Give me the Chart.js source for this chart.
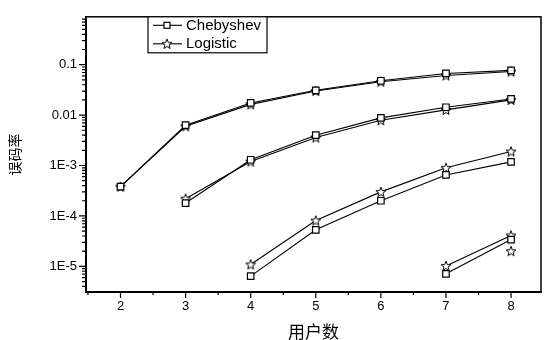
<!DOCTYPE html>
<html>
<head>
<meta charset="utf-8">
<script src="https://cdn.jsdelivr.net/npm/chart.js@4"></script>
<style>
    body { margin: 0; background: #fff; }
    #wrap { width: 548px; height: 340px; }
</style>
</head>
<body>
<div id="wrap"><canvas id="berChart"></canvas></div>
<script>
const users = [2, 3, 4, 5, 6, 7, 8];

// four groups of curves, each a Chebyshev / Logistic pair
const chebyshev1 = [3.8e-4, 6.3e-3, 0.0174, 0.031, 0.048, 0.067, 0.077];
const logistic1  = [3.8e-4, 6.0e-3, 0.0163, 0.030, 0.046, 0.061, 0.073];
const chebyshev2 = [null, 1.8e-4, 1.3e-3, 4.0e-3, 8.8e-3, 0.0143, 0.0209];
const logistic2  = [null, 2.2e-4, 1.2e-3, 3.6e-3, 7.9e-3, 0.0127, 0.0200];
const chebyshev3 = [null, null, 6.4e-6, 5.3e-5, 2.0e-4, 6.5e-4, 1.18e-3];
const logistic3  = [null, null, 1.09e-5, 8.1e-5, 3.0e-4, 9.0e-4, 1.9e-3];
const chebyshev4 = [null, null, null, null, null, 7.1e-6, 3.4e-5];
const logistic4  = [null, null, null, null, null, 1.02e-5, 4.1e-5];
const strayStar  = [null, null, null, null, null, null, 2.0e-5];

const xTicks = [2, 3, 4, 5, 6, 7, 8];
const yTicks = [1e-5, 1e-4, 1e-3, 0.01, 0.1];
const yTickLabels = ['1E-5', '1E-4', '1E-3', '0.01', '0.1'];
const legendNames = ['Chebyshev', 'Logistic'];

const FONT = '"Liberation Sans", Arial, sans-serif';
const CJK = '"Noto Sans CJK SC", sans-serif';

// hollow five point star used as marker
function makeStar() {
    const c = document.createElement('canvas');
    c.width = 12; c.height = 12;
    const g = c.getContext('2d');
    g.beginPath();
    for (let i = 0; i < 10; i++) {
        const r = i % 2 === 0 ? 5.2 : 2.2;
        const ang = -Math.PI / 2 + i * Math.PI / 5;
        const px = 6 + r * Math.cos(ang), py = 6.4 + r * Math.sin(ang);
        if (i === 0) g.moveTo(px, py); else g.lineTo(px, py);
    }
    g.closePath();
    g.fillStyle = '#fff'; g.fill();
    g.strokeStyle = '#000'; g.lineWidth = 1; g.stroke();
    return c;
}
const starImg = makeStar();

function toPoints(arr) {
    return users.map((u, i) => ({ x: u, y: arr[i] })).filter(p => p.y !== null);
}

function series(arr, isStar, showLine) {
    return {
        data: toPoints(arr),
        borderColor: '#000',
        borderWidth: 1.1,
        backgroundColor: '#fff',
        pointStyle: isStar ? starImg : 'rect',
        pointRadius: 4.6,
        pointBorderWidth: 1.2,
        pointBorderColor: '#000',
        pointBackgroundColor: '#fff',
        showLine: showLine,
        tension: 0
    };
}

const frameAndTicks = {
    id: 'frameAndTicks',
    afterDraw(chart) {
        const { ctx, chartArea: a, scales: { x, y } } = chart;
        ctx.save();
        ctx.strokeStyle = '#000';
        ctx.lineWidth = 1.5;
        ctx.strokeRect(a.left, a.top, a.right - a.left, a.bottom - a.top);

        // tick marks, major and minor
        ctx.lineWidth = 1.2;
        ctx.beginPath();
        for (let e = -6; e <= 0; e++) {
            for (let m = 1; m <= 9; m++) {
                const v = m * Math.pow(10, e);
                if (v < y.min || v > y.max) continue;
                const py = y.getPixelForValue(v);
                ctx.moveTo(a.left, py);
                ctx.lineTo(a.left - (m === 1 ? 7 : 4), py);
            }
        }
        for (let v = 1.5; v <= 8.5; v += 0.5) {
            if (v < x.min || v > x.max) continue;
            const px = x.getPixelForValue(v);
            ctx.moveTo(px, a.bottom);
            ctx.lineTo(px, a.bottom + (Number.isInteger(v) ? 6 : 3));
        }
        ctx.stroke();

        // legend box inside the plot
        const lx = a.left + 62, ly = a.top, lw = 119, lh = 36;
        ctx.fillStyle = '#fff';
        ctx.fillRect(lx, ly, lw, lh);
        ctx.lineWidth = 1.2;
        ctx.strokeRect(lx, ly, lw, lh);
        ctx.font = '15px ' + FONT;
        ctx.textBaseline = 'middle';
        legendNames.forEach((name, i) => {
            const cy = ly + 8.5 + i * 18.5;
            ctx.lineWidth = 1.1;
            ctx.beginPath();
            ctx.moveTo(lx + 5, cy); ctx.lineTo(lx + 34, cy);
            ctx.stroke();
            if (i === 0) {
                ctx.fillStyle = '#fff';
                ctx.fillRect(lx + 16, cy - 3, 6, 6);
                ctx.lineWidth = 1.2;
                ctx.strokeRect(lx + 16, cy - 3, 6, 6);
            } else {
                ctx.drawImage(starImg, lx + 13, cy - 6);
            }
            ctx.fillStyle = '#000';
            ctx.fillText(name, lx + 38, cy + 0.5);
        });
        ctx.restore();
    }
};

const datasets = [
    series(chebyshev1, false, true), series(logistic1, true, true),
    series(chebyshev2, false, true), series(logistic2, true, true),
    series(chebyshev3, false, true), series(logistic3, true, true),
    series(chebyshev4, false, true), series(logistic4, true, true),
    series(strayStar, true, false)
];

new Chart(document.getElementById('berChart'), {
    type: 'scatter',
    data: { datasets: datasets },
    options: {
        responsive: true,
        maintainAspectRatio: false,
        animation: false,
        layout: { padding: { top: 15, right: 7, left: 0, bottom: 0 } },
        plugins: { legend: { display: false }, tooltip: { enabled: false } },
        scales: {
            x: {
                type: 'linear',
                min: 1.47, max: 8.46,
                afterBuildTicks: s => { s.ticks = xTicks.map(v => ({ value: v })); },
                afterFit: s => { s.height = 48; },
                grid: { display: false, drawTicks: false, tickLength: 0 },
                border: { display: true, color: '#000', width: 2 },
                ticks: { color: '#000', padding: 7, font: { family: FONT, size: 13 }, callback: v => String(v) },
                title: { display: true, text: '用户数', color: '#000', padding: { top: 0, bottom: 0 }, font: { family: CJK, size: 17, lineHeight: 1 } }
            },
            y: {
                type: 'logarithmic',
                min: 3.1e-6, max: 0.89,
                afterBuildTicks: s => { s.ticks = yTicks.map(v => ({ value: v })); },
                afterFit: s => { s.width = 86; },
                grid: { display: false, drawTicks: false, tickLength: 0 },
                border: { display: true, color: '#000', width: 2 },
                ticks: { color: '#000', padding: 9, font: { family: FONT, size: 13 },
                    callback: v => { const i = yTicks.indexOf(v); return i >= 0 ? yTickLabels[i] : ''; } },
                title: { display: true, text: '误码率', color: '#000', padding: { top: 6, bottom: 0 }, font: { family: CJK, size: 14 } }
            }
        }
    },
    plugins: [frameAndTicks]
});
</script>
</body>
</html>
